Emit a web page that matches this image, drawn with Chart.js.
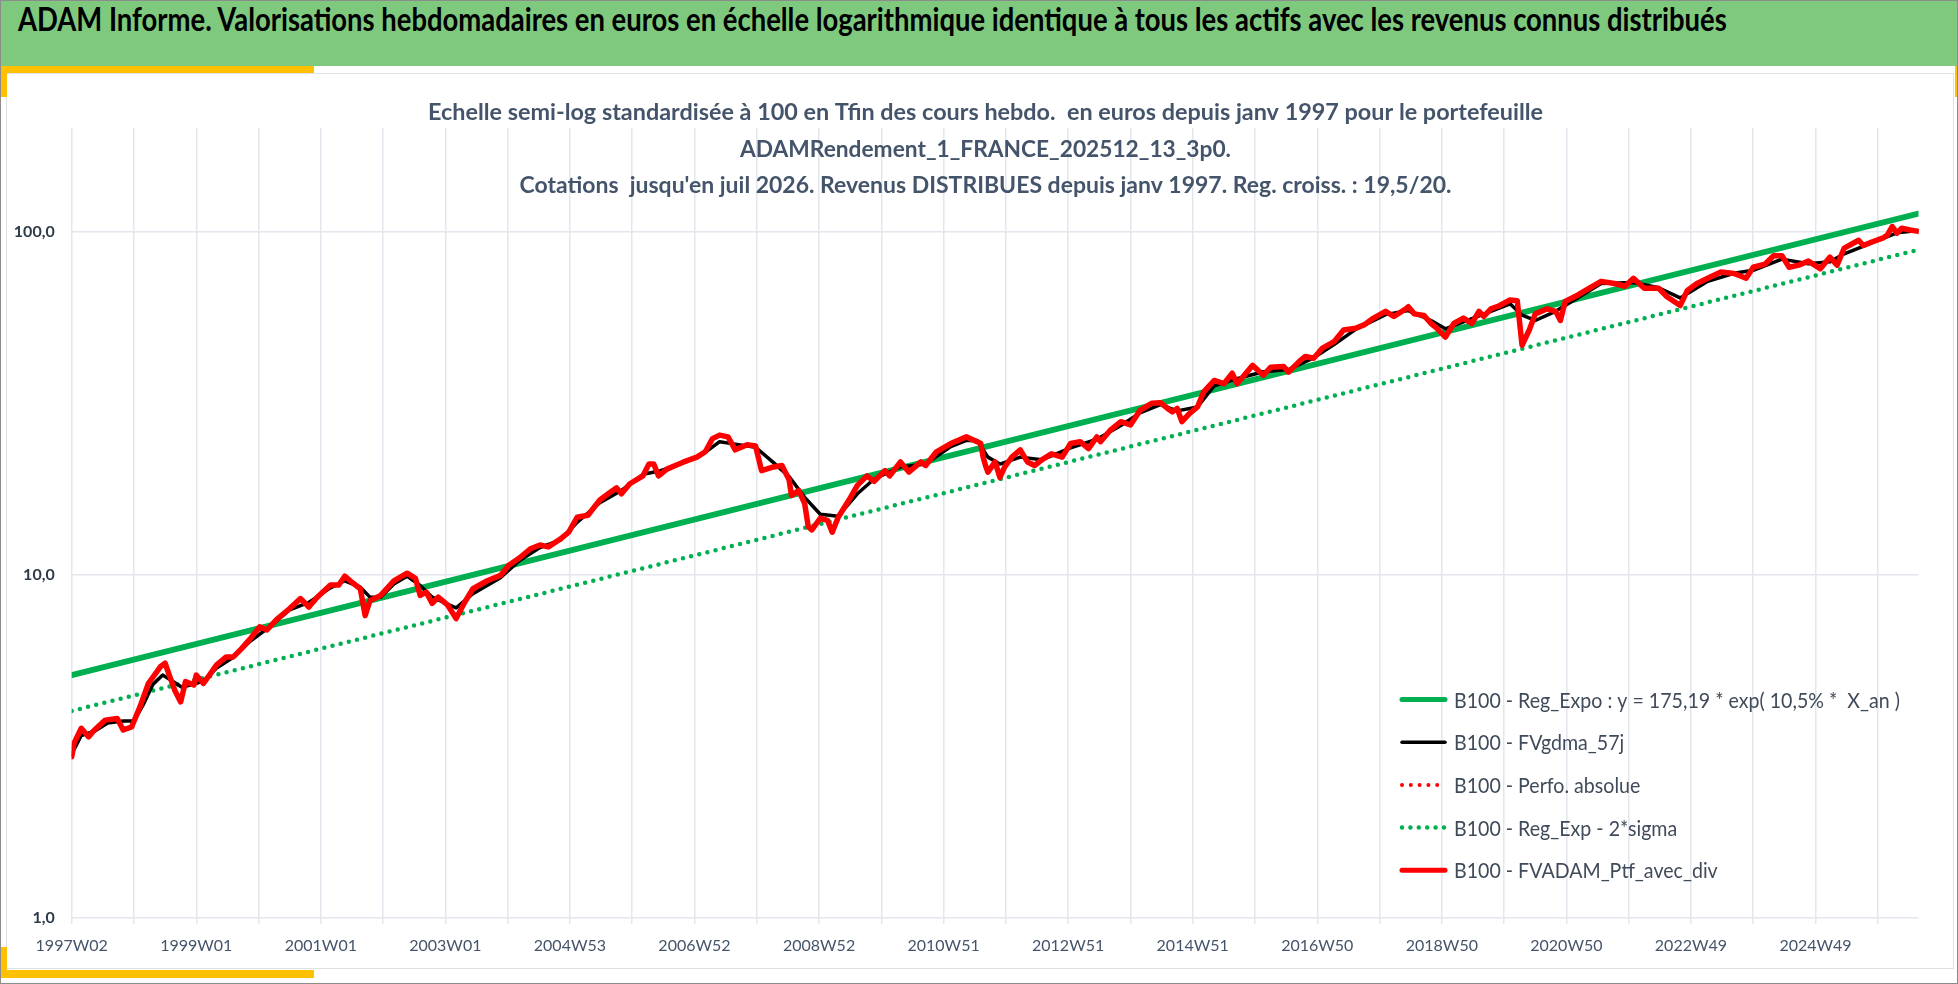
<!DOCTYPE html>
<html lang="fr">
<head>
<meta charset="UTF-8">
<title>ADAM Informe</title>
<script src="https://cdn.jsdelivr.net/npm/chart.js"></script>
<style>
    html, body { margin: 0; padding: 0; background: #fff; }
    #page { position: relative; width: 1958px; height: 984px; overflow: hidden; background: #fff; }
    #bandeau { position: absolute; left: 0; top: 0; width: 1958px; height: 66px; background: #7fc97f; }
    #titre { position: absolute; left: 18px; top: -1px; line-height: 66px; font: bold 32px Lato, sans-serif;
             color: #000; white-space: nowrap; transform-origin: left center; }
    #cadre { position: absolute; left: 6px; top: 73px; width: 1948px; height: 896px; box-sizing: border-box;
             border: 1.5px solid #dde0e4; }
    .jaune { position: absolute; background: #ffc000; }
    #zone { position: absolute; left: 8px; top: 75px; width: 1945px; height: 893px; }
    #bord { position: absolute; left: 0; top: 0; width: 1958px; height: 984px; box-sizing: border-box;
            border: 1.5px solid #8c8c8c; pointer-events: none; }
</style>
</head>
<body>
<div id="page">
    <div id="bandeau"><span id="titre">ADAM Informe. Valorisations hebdomadaires en euros en échelle logarithmique identique à tous les actifs avec les revenus connus distribués</span></div>
    <div id="cadre"></div>
    <div class="jaune" style="left:0;top:66px;width:314px;height:7px"></div>
    <div class="jaune" style="left:0;top:66px;width:7px;height:31px"></div>
    <div class="jaune" style="left:0;top:970px;width:314px;height:8px"></div>
    <div class="jaune" style="left:0;top:947px;width:7px;height:31px"></div>
    <div class="jaune" style="left:1955px;top:66px;width:2px;height:31px"></div>
    <div id="zone"><canvas id="graphe"></canvas></div>
    <div id="bord"></div>
</div>

<script>
// libellés de l'axe X (une étiquette toutes les 104 semaines)
const etiquettesX = ['1997W02', '1999W01', '2001W01', '2003W01', '2004W53', '2006W52', '2008W52', '2010W51',
    '2012W51', '2014W51', '2016W50', '2018W50', '2020W50', '2022W49', '2024W49'];
const semaineFin = 1542;
const ticksY = [1, 10, 100];

const nomsSeries = [
    'B100 - Reg_Expo : y = 175,19 * exp( 10,5% *  X_an )',
    'B100 - FVgdma_57j',
    'B100 - Perfo. absolue',
    'B100 - Reg_Exp - 2*sigma',
    'B100 - FVADAM_Ptf_avec_div'
];

// regression expo et bande -2 sigma (debut / fin)
const semainesReg = [0, 1542];
const valeursReg = [5.10, 112.6];
const valeursRegMoins2s = [4.01, 88.4];

// portefeuille avec dividendes (semaine depuis 1997W02, base 100)
const semaines = [0, 2, 8, 14, 19, 28, 38, 43, 50, 57, 64, 74, 78, 82, 86, 91, 95, 102, 104, 110,
    121, 129, 135, 142, 149, 157, 163, 171, 182, 191, 198, 205, 216, 223, 228, 235, 241, 245, 249, 258,
    269, 280, 287, 291, 296, 301, 306, 314, 321, 328, 335, 347, 358, 365, 374, 383, 391, 398, 408, 415,
    422, 431, 441, 448, 455, 459, 466, 477, 482, 486, 490, 497, 504, 511, 522, 529, 535, 541, 548, 554,
    564, 571, 576, 586, 593, 599, 601, 607, 612, 615, 618, 625, 631, 635, 640, 649, 656, 664, 670, 679,
    683, 692, 699, 709, 713, 722, 734, 747, 756, 759, 761, 763, 765, 771, 775, 779, 785, 792, 798, 804,
    810, 818, 827, 834, 842, 849, 856, 859, 867, 876, 884, 892, 902, 909, 915, 919, 923, 927, 933, 940,
    945, 954, 962, 969, 973, 979, 986, 995, 1001, 1012, 1016, 1025, 1030, 1037, 1044, 1054, 1062, 1072, 1079, 1087,
    1097, 1104, 1114, 1116, 1121, 1129, 1135, 1140, 1147, 1154, 1162, 1169, 1175, 1179, 1185, 1192, 1201, 1207, 1211, 1217,
    1222, 1232, 1239, 1243, 1247, 1256, 1264, 1277, 1288, 1297, 1304, 1313, 1325, 1332, 1343, 1349, 1357, 1366, 1377, 1388,
    1398, 1404, 1414, 1421, 1428, 1434, 1442, 1450, 1460, 1468, 1474, 1480, 1492, 1496, 1503, 1512, 1516, 1520, 1524, 1528,
    1535, 1542];
const valeursPtf = [2.95, 3.23, 3.57, 3.37, 3.53, 3.77, 3.81, 3.53, 3.6, 4.12, 4.82, 5.39, 5.52, 5.04, 4.61, 4.26, 4.88, 4.77, 5.1, 4.82,
    5.46, 5.76, 5.76, 6.1, 6.5, 7.05, 6.9, 7.4, 7.97, 8.52, 8.05, 8.6, 9.33, 9.33, 9.9, 9.44, 9.1, 7.6, 8.4, 8.7,
    9.6, 10.1, 9.75, 8.7, 8.9, 8.25, 8.6, 8.15, 7.45, 8.3, 9.1, 9.6, 9.95, 10.66, 11.2, 11.9, 12.2, 12.05, 12.7, 13.3,
    14.7, 14.9, 16.5, 17.2, 17.9, 17.2, 18.4, 19.4, 21.0, 21.0, 19.4, 20.3, 20.8, 21.3, 22.0, 22.8, 24.9, 25.5, 25.2, 23.1,
    23.9, 23.7, 20.1, 20.6, 20.8, 18.9, 17.0, 17.6, 16.1, 13.8, 13.5, 14.6, 14.4, 13.3, 14.7, 16.5, 18.2, 19.4, 18.7, 20.1,
    19.4, 21.3, 19.9, 21.3, 20.8, 22.8, 24.1, 25.2, 24.4, 24.1, 22.0, 20.8, 19.9, 21.3, 19.2, 20.6, 22.0, 23.1, 21.3, 20.8,
    21.6, 22.5, 22.0, 24.1, 24.4, 23.3, 25.2, 24.4, 26.3, 27.9, 27.3, 30.1, 31.6, 31.7, 30.5, 29.8, 30.5, 27.9, 29.4, 30.8,
    34.0, 36.8, 36.0, 38.6, 36.0, 38.1, 40.7, 38.1, 40.2, 40.4, 38.9, 41.8, 43.2, 42.7, 45.6, 47.7, 51.6, 52.2, 53.4, 55.9,
    58.5, 56.5, 59.5, 60.3, 57.5, 56.9, 53.9, 52.2, 49.2, 53.9, 55.9, 53.9, 58.5, 56.5, 59.5, 60.7, 63.1, 62.8, 46.6, 51.6,
    57.5, 59.5, 58.5, 55.0, 62.5, 64.8, 67.3, 71.5, 70.5, 69.2, 73.0, 68.3, 68.3, 64.5, 60.8, 67.3, 70.5, 73.0, 76.1, 75.4,
    73.0, 78.6, 80.3, 84.9, 84.9, 78.6, 79.7, 81.9, 77.8, 84.1, 79.7, 89.4, 94.2, 90.9, 93.1, 95.5, 97.5, 103.3, 98.8, 102.1,
    100.9, 100.0];

// moyenne mobile (plus lisse)
const semainesMoy = [0, 8, 19, 30, 43, 52, 60, 68, 76, 84, 92, 102, 110, 121, 135, 149, 163, 182, 198, 216,
    228, 241, 249, 258, 269, 280, 291, 301, 314, 321, 335, 358, 374, 391, 408, 422, 441, 459, 477, 490,
    511, 529, 541, 554, 571, 586, 599, 612, 625, 640, 656, 670, 692, 713, 734, 747, 756, 765, 775, 792,
    810, 834, 856, 876, 892, 909, 923, 940, 954, 973, 995, 1016, 1037, 1054, 1072, 1097, 1116, 1135, 1147, 1162,
    1185, 1201, 1211, 1222, 1239, 1256, 1277, 1304, 1325, 1343, 1366, 1388, 1404, 1428, 1450, 1468, 1480, 1503, 1524, 1542];
const valeursMoy = [3.0, 3.4, 3.5, 3.7, 3.75, 3.75, 4.2, 4.8, 5.1, 4.9, 4.7, 4.8, 4.9, 5.35, 5.75, 6.4, 6.95, 7.9, 8.3, 9.15,
    9.6, 9.2, 8.6, 8.6, 9.4, 9.9, 9.3, 8.6, 8.2, 8.0, 8.8, 9.8, 11.0, 12.0, 12.6, 14.2, 16.2, 17.6, 19.6, 20.0,
    21.2, 22.7, 24.4, 24.0, 23.5, 21.2, 19.3, 16.8, 15.0, 14.8, 17.2, 19.0, 20.6, 21.0, 23.6, 24.6, 24.6, 22.0, 21.0, 22.0,
    21.6, 23.4, 24.8, 27.2, 29.6, 31.3, 30.0, 30.8, 35.5, 37.2, 39.0, 39.6, 42.8, 46.8, 51.8, 57.2, 58.8, 55.0, 52.0, 54.5,
    58.5, 61.5, 57.0, 55.0, 58.5, 63.5, 70.5, 71.0, 68.5, 64.0, 71.5, 75.5, 77.0, 83.0, 80.5, 81.5, 86.0, 92.5, 99.0, 100.5];

const lignesTitre = [
    'Echelle semi-log standardisée à 100 en Tfin des cours hebdo.  en euros depuis janv 1997 pour le portefeuille',
    'ADAMRendement_1_FRANCE_202512_13_3p0.',
    'Cotations  jusqu\'en juil 2026. Revenus DISTRIBUES depuis janv 1997. Reg. croiss. : 19,5/20.'
];

function points(xs, ys) {
    return xs.map(function(x, i) { return { x: x, y: ys[i] }; });
}

// titre du graphique, superpose a la zone de trace comme dans Excel
const titreAdam = {
    id: 'titreAdam',
    afterDraw(chart) {
        const ctx = chart.ctx;
        const largeurs = [1115, 491, 932];
        ctx.save();
        ctx.fillStyle = '#44546a';
        ctx.font = 'bold 23px Lato';
        ctx.textAlign = 'center';
        ctx.textBaseline = 'alphabetic';
        lignesTitre.forEach(function(txt, i) {
            const k = largeurs[i] / ctx.measureText(txt).width;
            ctx.save();
            ctx.translate(977.5, 45 + i * 36.5);
            ctx.scale(k, 1);
            ctx.fillText(txt, 0, 0);
            ctx.restore();
        });
        ctx.restore();
    }
};

// legende dans le coin bas droit
const legendeAdam = {
    id: 'legendeAdam',
    afterDraw(chart) {
        const ctx = chart.ctx;
        ctx.save();
        ctx.font = '22px Lato';
        const k = 446 / ctx.measureText(nomsSeries[0]).width;
        chart.data.datasets.forEach(function(ds, i) {
            const y = 624.5 + i * 42.7;
            ctx.beginPath();
            ctx.setLineDash(ds.borderDash || []);
            ctx.lineCap = ds.borderCapStyle || 'butt';
            ctx.lineWidth = Math.min(ds.borderWidth, 5);
            ctx.strokeStyle = ds.borderColor;
            ctx.moveTo(1394, y);
            ctx.lineTo(1437, y);
            ctx.stroke();
            ctx.setLineDash([]);
            ctx.save();
            ctx.translate(1446, y + 1);
            ctx.scale(k, 1);
            ctx.fillStyle = '#404b5a';
            ctx.textBaseline = 'middle';
            ctx.fillText(ds.label, 0, 0);
            ctx.restore();
        });
        ctx.restore();
    }
};

const ctx = document.querySelector('#graphe');
const grille = '#e3e6ec';

new Chart(ctx, {
    type: 'line',
    data: {
        datasets: [{
            label: nomsSeries[0],
            data: points(semainesReg, valeursReg),
            borderColor: '#00b050',
            borderWidth: 6,
            borderCapStyle: 'round',
            order: 3
        }, {
            label: nomsSeries[1],
            data: points(semainesMoy, valeursMoy),
            borderColor: '#000000',
            borderWidth: 3.5,
            borderCapStyle: 'round',
            borderJoinStyle: 'round',
            order: 2
        }, {
            label: nomsSeries[2],
            data: points(semaines, valeursPtf),
            borderColor: '#ff0000',
            borderWidth: 4,
            borderDash: [0, 8.8],
            borderCapStyle: 'round',
            order: 1
        }, {
            label: nomsSeries[3],
            data: points(semainesReg, valeursRegMoins2s),
            borderColor: '#00b050',
            borderWidth: 4.5,
            borderDash: [0, 8.4],
            borderCapStyle: 'round',
            order: 4
        }, {
            label: nomsSeries[4],
            data: points(semaines, valeursPtf),
            borderColor: '#ff0000',
            borderWidth: 5.5,
            borderCapStyle: 'round',
            borderJoinStyle: 'round',
            order: 0
        }]
    },
    options: {
        responsive: true,
        maintainAspectRatio: false,
        animation: false,
        layout: { padding: { top: 53, right: 34.5, left: 0, bottom: 0 } },
        elements: { point: { radius: 0 }, line: { tension: 0 } },
        plugins: {
            legend: { display: false },
            title: { display: false },
            tooltip: { enabled: false }
        },
        scales: {
            x: {
                type: 'linear',
                min: 0,
                max: semaineFin,
                border: { display: false },
                grid: { color: grille, lineWidth: 1.5, tickLength: 6 },
                ticks: {
                    autoSkip: false,
                    maxRotation: 0,
                    padding: 12,
                    color: '#44546a',
                    font: { family: 'Lato', size: 16 },
                    callback: function(v) { return v % 104 === 0 ? etiquettesX[v / 104] : ''; }
                },
                afterBuildTicks: function(axis) {
                    const t = [];
                    for (let w = 0; w <= semaineFin; w += 52) t.push({ value: w });
                    axis.ticks = t;
                },
                afterFit: function(axis) { axis.height = 50; }
            },
            y: {
                type: 'logarithmic',
                min: 1,
                max: 200,
                border: { display: false },
                grid: { color: grille, lineWidth: 1.5, drawTicks: false },
                ticks: {
                    padding: 17,
                    color: '#2f3a48',
                    font: { family: 'Lato', size: 16, weight: 'bold' },
                    callback: function(v) { return v.toFixed(1).replace('.', ','); }
                },
                afterBuildTicks: function(axis) {
                    axis.ticks = ticksY.map(function(v) { return { value: v }; });
                },
                afterFit: function(axis) { axis.width = 63.7; }
            }
        }
    },
    plugins: [titreAdam, legendeAdam]
});

// titre du bandeau ajuste a la largeur de l'original
const titre = document.getElementById('titre');
titre.style.transform = 'scaleX(' + (1709 / titre.offsetWidth) + ')';
</script>
</body>
</html>
